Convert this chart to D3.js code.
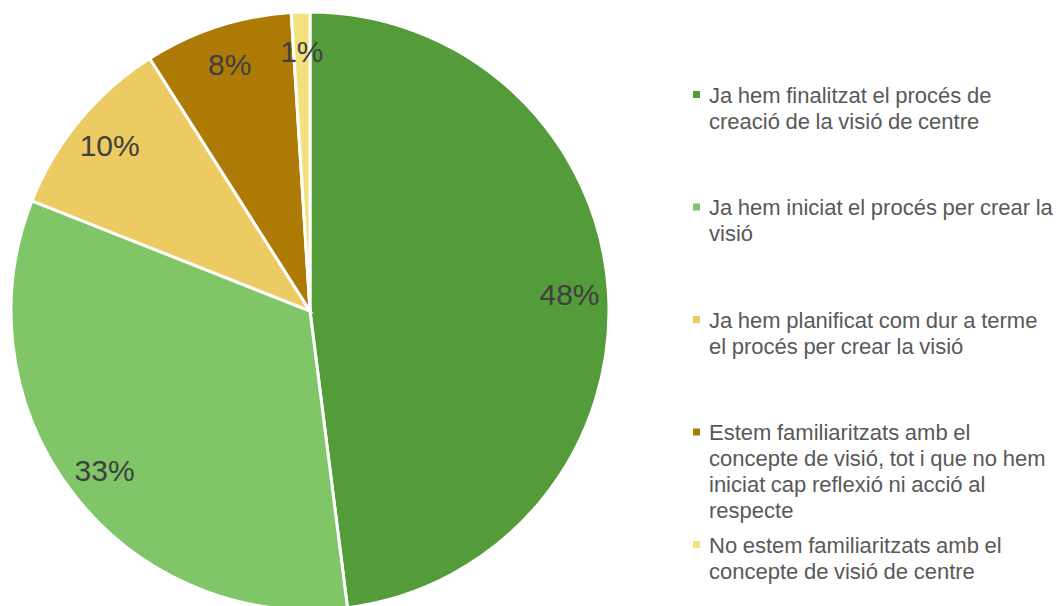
<!DOCTYPE html>
<html>
<head>
<meta charset="utf-8">
<script src="https://cdn.jsdelivr.net/npm/d3@7"></script>
<style>
  html, body { margin: 0; padding: 0; background: #fff; }
  #chart { width: 1064px; height: 606px; }
</style>
</head>
<body>
<div id="chart"></div>
<script>
// Chart data
const categories = [
    ['Ja hem finalitzat el procés de', 'creació de la visió de centre'],
    ['Ja hem iniciat el procés per crear la', 'visió'],
    ['Ja hem planificat com dur a terme', 'el procés per crear la visió'],
    ['Estem familiaritzats amb el', 'concepte de visió, tot i que no hem', 'iniciat cap reflexió ni acció al', 'respecte'],
    ['No estem familiaritzats amb el', 'concepte de visió de centre']
];
const values = [48, 33, 10, 8, 1];
const colors = ['#549b3a', '#80c669', '#ebcb62', '#ad7b05', '#f2e27e'];

const container = document.getElementById('chart');
const W = 1064, H = 606;

const svg = d3.select(container)
    .append('svg')
    .attr('width', W)
    .attr('height', H);

const cx = 310, cy = 311, radius = 299;

const total = d3.sum(values);
const pie = d3.pie().sort(null).value(d => d);
const arc = d3.arc().innerRadius(0).outerRadius(radius);
const labelArc = d3.arc().innerRadius(260).outerRadius(260);

const g = svg.append('g')
    .attr('transform', `translate(${cx},${cy})`);

const arcs = pie(values);

// Slices
g.selectAll('path')
    .data(arcs)
    .enter()
    .append('path')
    .attr('d', arc)
    .attr('fill', (d, i) => colors[i])
    .attr('stroke', '#fff')
    .attr('stroke-width', 3)
    .attr('stroke-linejoin', 'miter');

// Percentage labels
g.selectAll('text.pct')
    .data(arcs)
    .enter()
    .append('text')
    .attr('class', 'pct')
    .attr('transform', d => `translate(${labelArc.centroid(d)})`)
    .attr('text-anchor', 'middle')
    .attr('dy', '0.36em')
    .style('font-family', 'Liberation Sans, Arial, sans-serif')
    .style('font-size', '30px')
    .style('fill', '#404040')
    .text(d => Math.round(d.value / total * 100) + '%');

// Legend
const legend = svg.append('g')
    .attr('transform', 'translate(693, 95)');

const slot = 112.5, lineH = 26;

categories.forEach((lines, i) => {
    const item = legend.append('g')
        .attr('transform', `translate(0, ${i * slot})`);

    item.append('rect')
        .attr('x', 0)
        .attr('y', -4)
        .attr('width', 7)
        .attr('height', 7)
        .attr('fill', colors[i]);

    const text = item.append('text')
        .attr('x', 16)
        .attr('y', 0)
        .style('font-family', 'Liberation Sans, Arial, sans-serif')
        .style('font-size', '22px')
        .style('word-spacing', '-0.5px')
        .style('fill', '#595959');

    lines.forEach((line, j) => {
        text.append('tspan')
            .attr('x', 16)
            .attr('y', j * lineH)
            .attr('dy', '0.36em')
            .text(line);
    });
});
</script>
</body>
</html>
